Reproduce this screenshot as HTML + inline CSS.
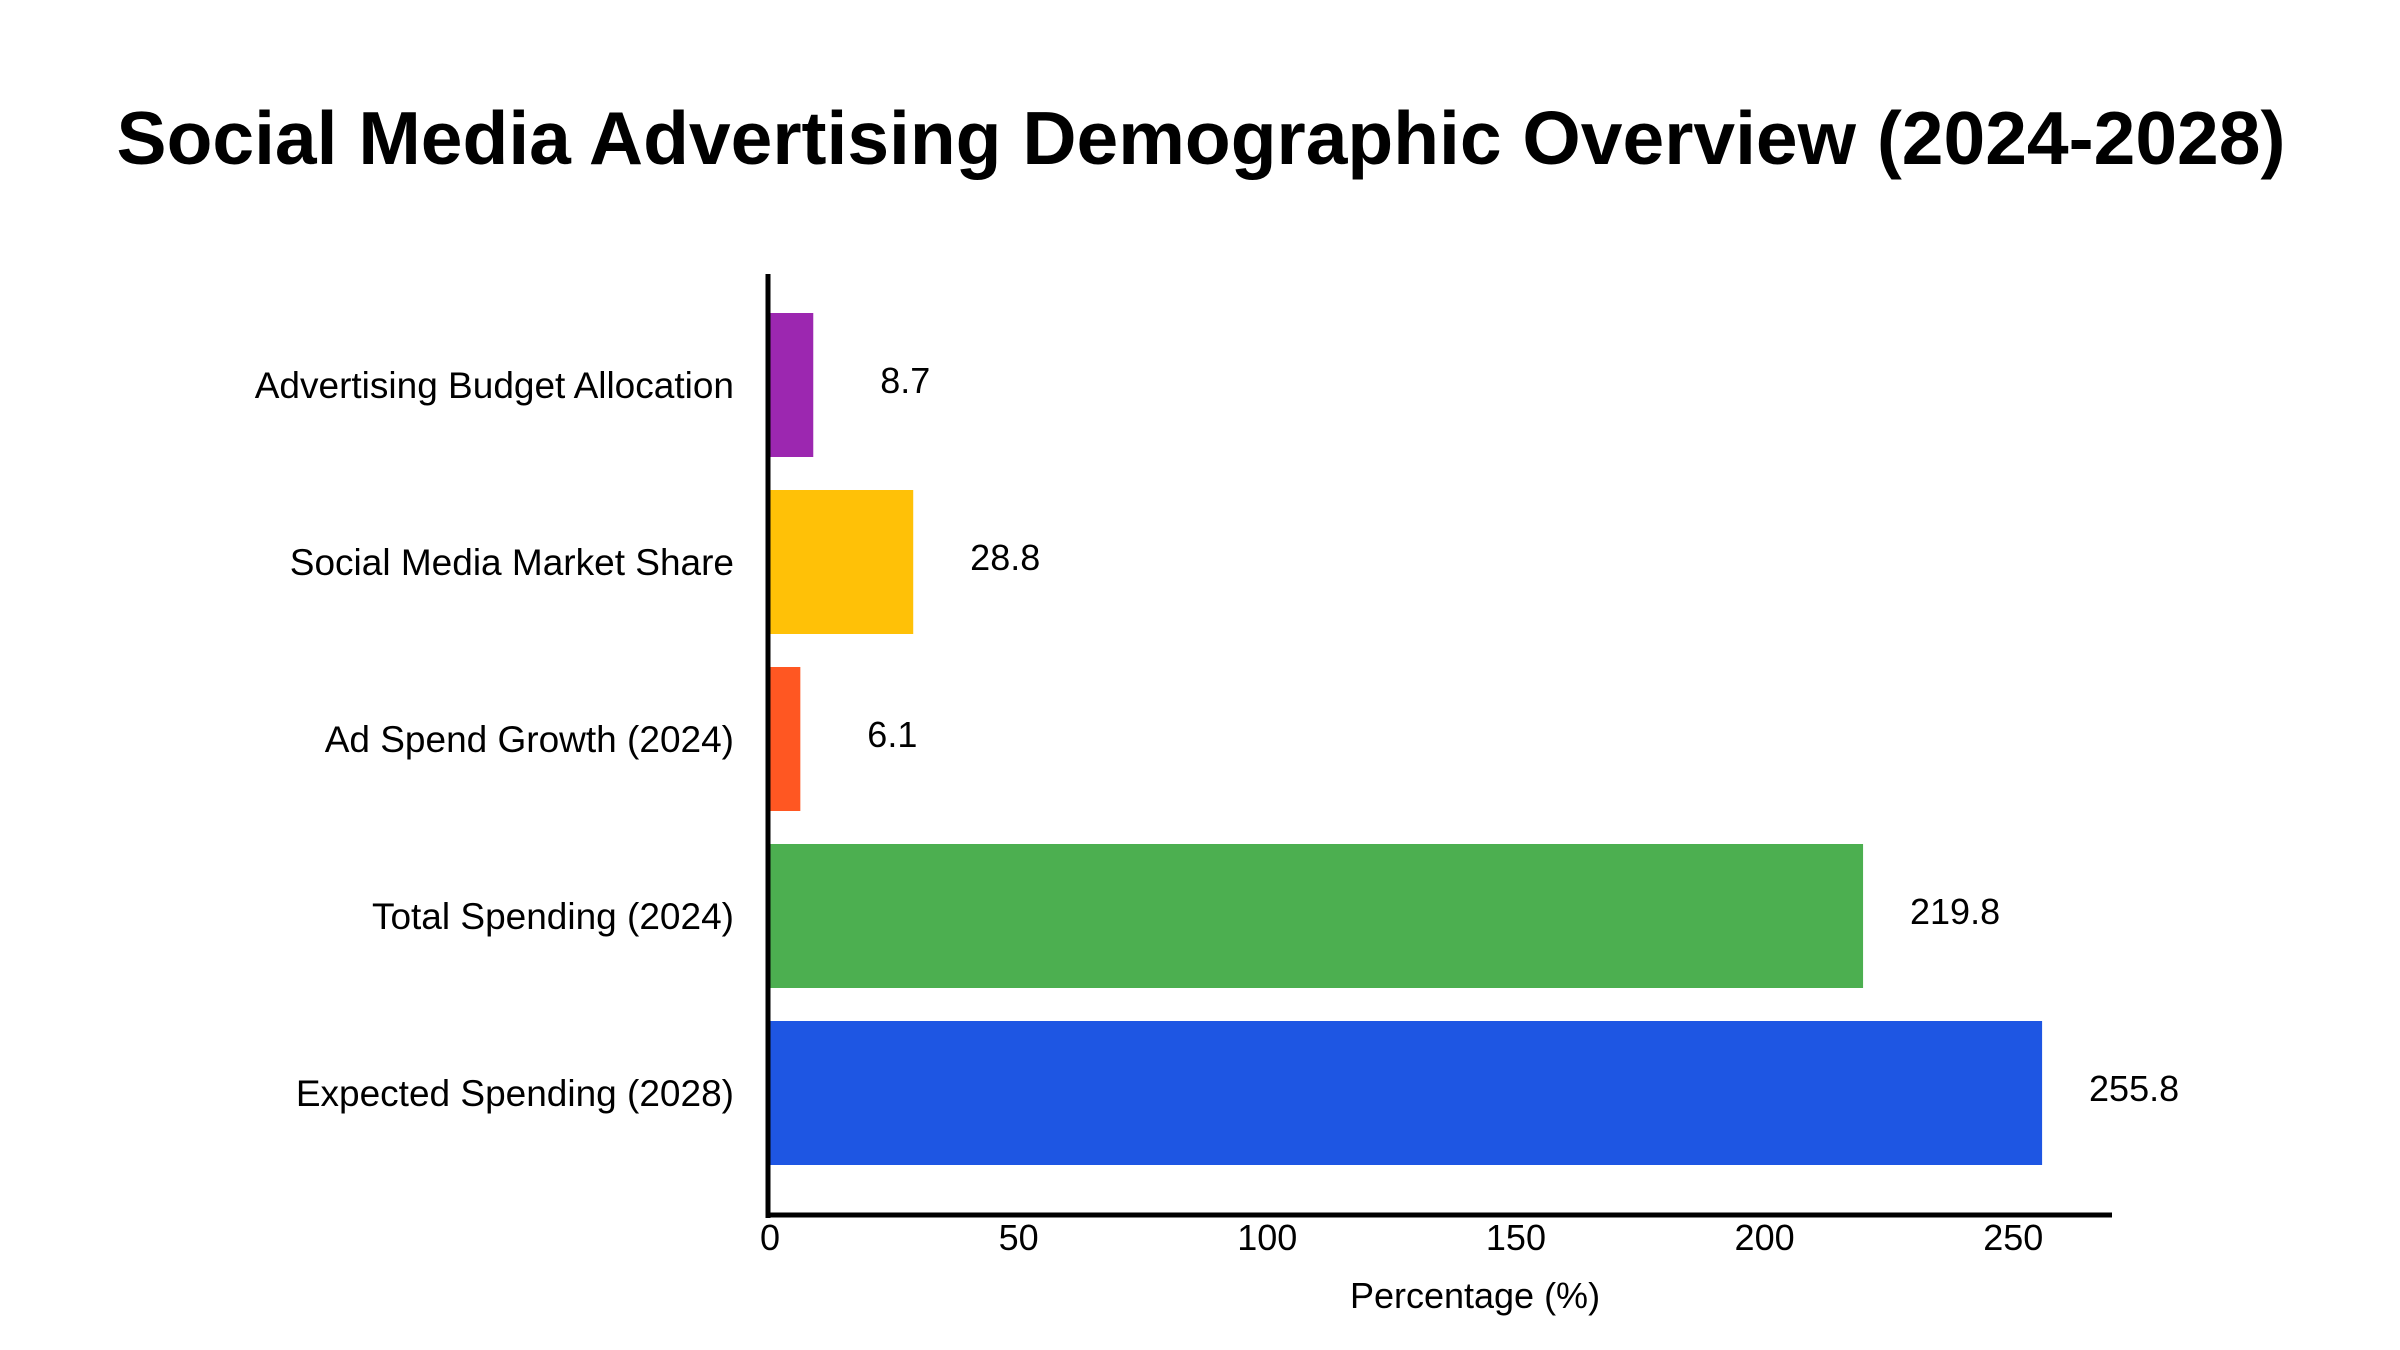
<!DOCTYPE html>
<html><head><meta charset="utf-8"><style>
html,body{margin:0;padding:0;background:#fff;}
svg{display:block;font-family:"Liberation Sans",sans-serif;}
</style></head><body>
<svg id="chart" width="2400" height="1350" viewBox="0 0 2400 1350">
<text x="1201" y="164" text-anchor="middle" font-size="75" font-weight="bold" fill="#000">Social Media Advertising Demographic Overview (2024-2028)</text>
<g id="bars"></g>
<line x1="768" y1="274" x2="768" y2="1218" stroke="#000" stroke-width="5"/>
<line x1="766" y1="1215" x2="2112" y2="1215" stroke="#000" stroke-width="5"/>
<text x="1475" y="1308" text-anchor="middle" font-size="36" fill="#000">Percentage (%)</text>
</svg>
<script>
const categories = ["Advertising Budget Allocation","Social Media Market Share","Ad Spend Growth (2024)","Total Spending (2024)","Expected Spending (2028)"];
const values = [8.7, 28.8, 6.1, 219.8, 255.8];
const colors = ["#9C27B0","#FFC107","#FF5722","#4CAF50","#1E56E3"];
const ticks = [0,50,100,150,200,250];

const NS="http://www.w3.org/2000/svg";
const x0=770, unit=4.973, top0=313, pitch=177, bh=144;
const xs=v=>x0+v*unit;
const ys=i=>top0+i*pitch;
const g=document.getElementById('bars');
function mk(tag,attrs,txt){const e=document.createElementNS(NS,tag);for(const k in attrs)e.setAttribute(k,attrs[k]);if(txt!==undefined)e.textContent=txt;return e;}
categories.forEach((c,i)=>{
  const r=mk('rect',{x:x0,y:ys(i),width:xs(values[i])-x0,height:bh,fill:colors[i]});
  
  
  g.appendChild(r);
  const l=mk('text',{x:734,y:ys(i)+bh/2+13,'text-anchor':'end','font-size':37,fill:'#000'},c);
  
  
  g.appendChild(l);
  const v=mk('text',{x:xs(values[i])+92,y:ys(i)+bh/2+8,'text-anchor':'middle','font-size':36,fill:'#000'},String(values[i]));
  
  
  g.appendChild(v);
});
ticks.forEach(t=>{
  const e=mk('text',{x:xs(t),y:1250,'text-anchor':'middle','font-size':36,fill:'#000'},String(t));
  
  
  g.appendChild(e);
});
</script>
</body></html>
